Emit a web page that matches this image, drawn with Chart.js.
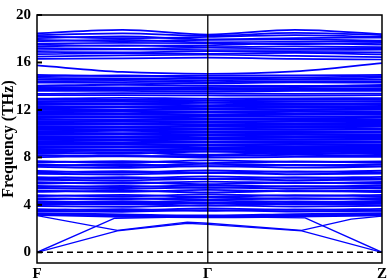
<!DOCTYPE html>
<html>
<head>
<meta charset="utf-8">
<script src="https://cdn.jsdelivr.net/npm/chart.js@4.4.1/dist/chart.umd.min.js"></script>
<style>
  body { margin: 0; background: #fff; }
</style>
</head>
<body>
<canvas id="phononChart" width="389" height="280"></canvas>
<script>
// k-path positions (F -> Γ -> Z) and labels
const kPath = [0, 0.5, 1, 1.51, 2.02];
const kTicks = [0, 1, 2.02];
const kLabels = ['F', 'Γ', 'Z'];
const freqTicks = [0, 4, 8, 12, 16, 20];

// acoustic branches (own k points)
const acousticK1 = [0, 0.47, 0.88, 1, 1.55, 2.02];
const acoustic1 = [0, 1.8, 2.45, 2.35, 1.8, 0];
const acousticK2 = [0, 0.47, 0.88, 1, 1.55, 1.84, 2.02];
const acoustic2 = [3.1, 1.85, 2.55, 2.45, 1.85, 2.8, 3.05];
const acousticK3 = [0, 0.455, 1, 1.57, 2.02];
const acoustic3 = [0, 2.87, 3.0, 2.9, 0];

// optical bands, values at kPath
const highBands = [
  [18.45, 18.75, 18.35, 18.75, 18.40],
  [18.30, 18.45, 18.25, 18.50, 18.30],
  [18.20, 18.05, 18.15, 18.30, 18.15],
  [18.05, 18.20, 17.95, 18.05, 18.10],
  [17.90, 17.80, 17.90, 17.95, 17.85],
  [17.80, 17.90, 17.70, 17.75, 17.75],
  [17.60, 17.65, 17.62, 17.55, 17.65],
  [17.50, 17.40, 17.45, 17.62, 17.50],
  [17.35, 17.45, 17.30, 17.35, 17.30],
  [17.20, 17.15, 17.25, 17.15, 17.20],
  [17.05, 17.10, 17.05, 17.05, 17.08],
  [16.90, 16.85, 16.95, 16.90, 16.85],
  [16.70, 16.78, 16.72, 16.80, 16.68],
  [16.50, 16.60, 16.65, 16.55, 16.45],
  [16.30, 16.35, 16.40, 16.30, 16.25],
  [15.75, 15.20, 15.05, 15.25, 15.95]
];
const midBands = [
  [14.95, 14.85, 14.90, 14.92, 14.95],
  [14.85, 14.92, 14.75, 14.75, 14.85],
  [14.70, 14.65, 14.68, 14.60, 14.72],
  [14.55, 14.58, 14.50, 14.55, 14.55],
  [14.40, 14.45, 14.35, 14.40, 14.40],
  [14.30, 14.28, 14.25, 14.32, 14.30],
  [14.05, 14.12, 14.05, 14.02, 14.10],
  [13.95, 13.90, 13.92, 13.98, 13.95],
  [13.85, 13.80, 13.80, 13.85, 13.80],
  [13.70, 13.74, 13.70, 13.68, 13.72],
  [13.60, 13.60, 13.55, 13.60, 13.60],
  [13.35, 13.42, 13.40, 13.35, 13.38],
  [13.25, 13.25, 13.22, 13.20, 13.25],
  [12.95, 13.02, 12.95, 12.98, 13.00],
  [12.85, 12.85, 12.82, 12.85, 12.85]
];
const denseBands = [
  [12.70, 12.75, 12.65, 12.70, 12.72],
  [12.58, 12.55, 12.60, 12.52, 12.56],
  [12.44, 12.48, 12.40, 12.45, 12.42],
  [12.30, 12.28, 12.32, 12.30, 12.28],
  [12.16, 12.20, 12.14, 12.18, 12.15],
  [12.02, 12.00, 12.06, 12.02, 12.04],
  [11.88, 11.92, 11.86, 11.90, 11.86],
  [11.74, 11.72, 11.78, 11.72, 11.75],
  [11.60, 11.62, 11.58, 11.64, 11.60],
  [11.46, 11.44, 11.50, 11.46, 11.44],
  [11.32, 11.36, 11.30, 11.30, 11.34],
  [11.18, 11.16, 11.20, 11.18, 11.16],
  [11.04, 11.06, 11.02, 11.06, 11.05],
  [10.90, 10.88, 10.92, 10.88, 10.90],
  [10.76, 10.80, 10.74, 10.76, 10.74],
  [10.62, 10.60, 10.66, 10.62, 10.64],
  [10.48, 10.50, 10.46, 10.50, 10.46],
  [10.34, 10.32, 10.36, 10.34, 10.36],
  [10.20, 10.24, 10.18, 10.20, 10.18],
  [10.06, 10.04, 10.08, 10.06, 10.08],
  [9.92, 9.96, 9.90, 9.94, 9.90],
  [9.78, 9.76, 9.82, 9.78, 9.80],
  [9.64, 9.66, 9.62, 9.66, 9.62],
  [9.50, 9.48, 9.54, 9.50, 9.52],
  [9.36, 9.40, 9.34, 9.36, 9.34],
  [9.22, 9.20, 9.26, 9.22, 9.24],
  [9.08, 9.10, 9.06, 9.10, 9.06],
  [8.94, 8.92, 8.98, 8.94, 8.96],
  [8.80, 8.84, 8.78, 8.80, 8.78],
  [8.66, 8.64, 8.70, 8.66, 8.68],
  [8.54, 8.56, 8.52, 8.55, 8.54]
];
const lowBands = [
  [8.42, 8.30, 8.50, 8.35, 8.44],
  [8.30, 8.40, 8.22, 8.40, 8.28],
  [8.16, 8.10, 8.12, 8.22, 8.14],
  [8.02, 8.12, 7.98, 8.04, 8.05],
  [7.68, 7.55, 7.75, 7.62, 7.66],
  [7.58, 7.68, 7.52, 7.66, 7.56],
  [7.40, 7.28, 7.45, 7.34, 7.42],
  [7.30, 7.40, 7.24, 7.36, 7.26],
  [7.20, 7.12, 7.26, 7.14, 7.22],
  [6.85, 6.72, 6.90, 6.78, 6.88],
  [6.74, 6.84, 6.68, 6.82, 6.70],
  [6.62, 6.56, 6.70, 6.58, 6.64],
  [6.34, 6.24, 6.40, 6.28, 6.36],
  [6.24, 6.34, 6.18, 6.32, 6.20],
  [6.12, 6.06, 6.20, 6.08, 6.14],
  [5.90, 5.80, 5.96, 5.84, 5.92],
  [5.80, 5.90, 5.74, 5.88, 5.78],
  [5.60, 5.50, 5.66, 5.54, 5.62],
  [5.50, 5.60, 5.44, 5.58, 5.48],
  [5.40, 5.34, 5.48, 5.36, 5.42],
  [5.20, 5.10, 5.26, 5.14, 5.22],
  [5.10, 5.20, 5.04, 5.18, 5.08],
  [4.82, 4.72, 4.88, 4.76, 4.84],
  [4.74, 4.84, 4.68, 4.82, 4.72],
  [4.56, 4.48, 4.62, 4.50, 4.58],
  [4.48, 4.56, 4.42, 4.56, 4.46],
  [4.30, 4.20, 4.36, 4.24, 4.32],
  [4.20, 4.30, 4.14, 4.28, 4.18],
  [4.10, 4.04, 4.18, 4.06, 4.12],
  [4.00, 4.10, 3.94, 4.08, 3.98],
  [3.90, 3.84, 3.96, 3.86, 3.92],
  [3.64, 3.54, 3.70, 3.58, 3.66],
  [3.55, 3.64, 3.50, 3.62, 3.52],
  [3.48, 3.42, 3.56, 3.44, 3.50],
  [3.30, 3.20, 3.10, 3.22, 3.30],
  [3.22, 3.10, 3.02, 3.12, 3.20],
  [3.15, 3.00, 2.95, 3.02, 3.12]
];

const bandColor = '#0000ff';
const serif = 'Liberation Serif, Times New Roman, serif';

const toPoints = (ks, vals) => vals.map((v, i) => ({ x: ks[i], y: v }));

const bandSet = (ks, vals, width, smooth) => ({
  data: toPoints(ks, vals),
  borderColor: bandColor,
  borderWidth: width,
  pointRadius: 0,
  fill: false,
  cubicInterpolationMode: smooth ? 'monotone' : 'default',
  tension: 0
});

// frame + inward ticks on the left
const framePlugin = {
  id: 'frame',
  afterDraw(chart) {
    const { ctx, chartArea: a, scales } = chart;
    ctx.save();
    ctx.strokeStyle = '#000';
    ctx.lineWidth = 1.5;
    ctx.strokeRect(a.left, a.top, a.right - a.left, a.bottom - a.top);
    ctx.lineWidth = 2;
    freqTicks.forEach(t => {
      let y = scales.y.getPixelForValue(t);
      ctx.beginPath();
      ctx.moveTo(a.left, y);
      ctx.lineTo(a.left + 5, y);
      ctx.stroke();
    });
    ctx.restore();
  }
};

window.onload = () => {
  drawChart();
};

const drawChart = () => {
  let datasets = [];
  highBands.forEach(b => datasets.push(bandSet(kPath, b, 1.7, true)));
  midBands.forEach(b => datasets.push(bandSet(kPath, b, 1.8, true)));
  denseBands.forEach(b => datasets.push(bandSet(kPath, b, 2.1, true)));
  lowBands.forEach(b => datasets.push(bandSet(kPath, b, 1.9, true)));
  datasets.push(bandSet(acousticK1, acoustic1, 1.3, false));
  datasets.push(bandSet(acousticK2, acoustic2, 1.3, false));
  datasets.push(bandSet(acousticK3, acoustic3, 1.3, false));

  // Γ separator and zero line
  datasets.push({
    data: [{ x: kTicks[1], y: -0.9 }, { x: kTicks[1], y: 20 }],
    borderColor: '#000', borderWidth: 1.3, pointRadius: 0, order: -1
  });
  datasets.push({
    data: [{ x: kTicks[0], y: 0 }, { x: kTicks[2], y: 0 }],
    borderColor: '#000', borderWidth: 1.4, borderDash: [6, 4], pointRadius: 0, order: -1
  });

  let ctx = document.getElementById('phononChart').getContext('2d');
  new Chart(ctx, {
    type: 'line',
    data: { datasets: datasets },
    options: {
      responsive: false,
      animation: false,
      layout: { padding: { top: 7, right: 6, left: 0, bottom: 0 } },
      plugins: { legend: { display: false }, tooltip: { enabled: false } },
      scales: {
        x: {
          type: 'linear',
          min: 0,
          max: kTicks[2],
          afterBuildTicks: s => { s.ticks = kTicks.map(v => ({ value: v })); },
          afterFit: s => { s.height = 17; },
          grid: { display: false, drawTicks: false },
          border: { display: false },
          ticks: {
            autoSkip: false,
            maxRotation: 0,
            padding: 2,
            color: '#000',
            font: { family: serif, size: 15, weight: 'bold' },
            callback: (v, i) => kLabels[i]
          }
        },
        y: {
          min: -0.9,
          max: 20,
          afterBuildTicks: s => { s.ticks = freqTicks.map(v => ({ value: v })); },
          afterFit: s => { s.width = 37; },
          grid: { display: false, drawTicks: false },
          border: { display: false },
          ticks: {
            padding: 6,
            color: '#000',
            font: { family: serif, size: 15, weight: 'bold' }
          },
          title: {
            display: true,
            text: 'Frequency (THz)',
            color: '#000',
            padding: { top: 0, bottom: 0 },
            font: { family: serif, size: 16, weight: 'bold', lineHeight: 1.05 }
          }
        }
      }
    },
    plugins: [framePlugin]
  });
};
</script>
</body>
</html>
